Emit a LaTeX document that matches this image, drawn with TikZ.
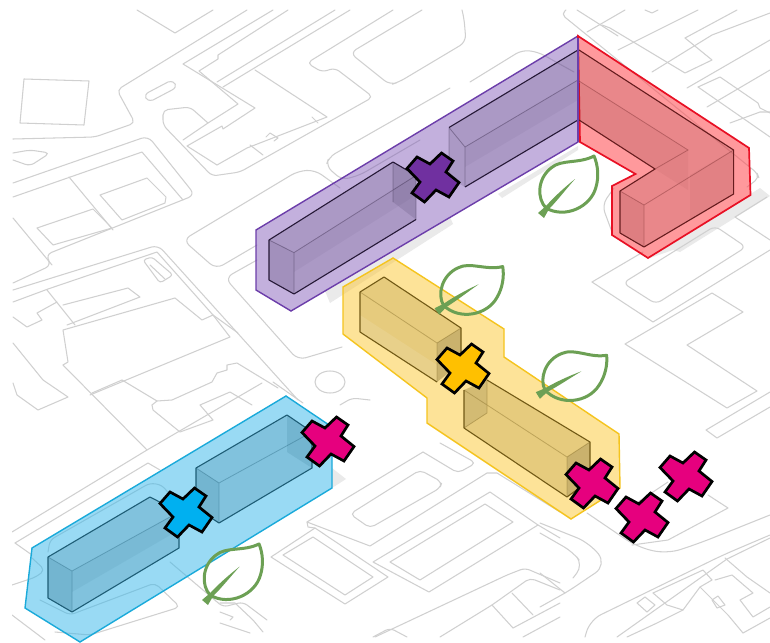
\documentclass[tikz,border=0pt]{standalone}
\definecolor{mapline}{RGB}{208,208,208}
\definecolor{shadowgrey}{RGB}{234,234,234}
\definecolor{leafgreen}{RGB}{108,160,84}
\definecolor{pline}{RGB}{108,62,170}
\definecolor{rline}{RGB}{232,16,36}
\definecolor{yline}{RGB}{245,196,30}
\definecolor{bline}{RGB}{26,170,218}
\definecolor{pfill}{RGB}{122,82,180}
\definecolor{rfill}{RGB}{255,70,76}
\definecolor{yfill}{RGB}{253,200,50}
\definecolor{bfill}{RGB}{60,185,235}
\definecolor{pcross}{RGB}{112,48,160}
\definecolor{ycross}{RGB}{255,192,0}
\definecolor{bcross}{RGB}{0,176,240}
\definecolor{mcross}{RGB}{230,0,126}
\tikzset{
 mp/.style={draw=mapline,line width=1.05pt,line join=round,line cap=round},
 rd/.style={mp,rounded corners=5pt},
 site/.style={line width=1.4pt,line join=miter},
 edge/.style={line width=.8pt,draw opacity=.35},
 shade/.style={fill opacity=.14},
}
\newcommand\crossat[3]{%
 \begin{scope}[shift={(#1,#2)}]
  \draw[fill=#3,draw=black,line width=2.7pt,line join=miter]
   (8.5,-24)--(20,-16)--(13,-5)--(26,5.5)--(16,20)--(3,13)--(-8.5,25)--(-21,16)--(-13,5)--(-26,-8.5)--(-16,-20)--(-3,-13)--cycle;
 \end{scope}}
\newcommand\leafat[3]{%
 \begin{scope}[shift={(#1,#2)},rotate=#3]
  \draw[leafgreen,line width=3pt,line join=round]
   (5,-7) .. controls (-4,-16) and (-4,-36) .. (10,-47) .. controls (20,-56) and (38,-51) .. (53,-59)
   .. controls (57,-50) and (58,-38) .. (55,-28) .. controls (50,-8) and (24,4) .. (5,-7) -- cycle;
  \fill[leafgreen] (-3,-2)--(3,3)--(8,-6) .. controls (16,-14) and (26,-27) .. (34,-36)
   .. controls (24,-28) and (14,-19) .. (5,-9) -- cycle;
 \end{scope}}
\begin{document}
\begin{tikzpicture}[x=1pt,y=-1pt]
\useasboundingbox (0,0) rectangle (770,642);
\fill[white] (0,0) rectangle (770,642);
% ground shadows
\fill[shadowgrey] (325,291)--(450,217)--(453,224)--(330,303)--cycle;
\fill[shadowgrey] (498,194)--(578,146)--(578,150)--(502,198)--cycle;
\fill[shadowgrey] (650,258)--(760,188)--(770,196)--(680,252)--(673,250)--cycle;
\fill[shadowgrey] (332,468)--(346,479)--(332,488)--cycle;
% base map
\begin{scope}
\clip (12,10) rectangle (770,642);
\draw[mp] (24,79)--(89,81)--(84,125)--(20,123)--cycle;
\draw[mp] (137,10)--(175,33)--(213,10);
\draw[rd] (13,139)--(95,137)--(135,123)--(117,90)--(247,10);
\draw[mp] (149,92)--(168,82) .. controls (176,80) and (178,87) .. (172,90)--(153,100) .. controls (145,102) and (143,95) .. (149,92)--cycle;
\draw[mp] (273,10)--(183,64)--(255,108)--(223,129)--(222,126)--(187,146)--(217,165);
\draw[mp] (288,10)--(218,55)--(218,59)--(199,71)--(238,104)--(208,123)--(183,140);
\draw[mp] (335,10)--(217,82);
\draw[mp] (350,10)--(223,87);
\draw[mp] (255,70)--(327,117)--(247,148)--(217,165);
\draw[mp] (312,117)--(318,123);
\draw[mp] (250,145)--(263,155);
\draw[mp] (266,137)--(270,133)--(278,138)--(274,141);
\draw[rd] (208,123)--(190,107)--(163,110)--(163,125)--(212,176)--(240,172)--(373,97)--(335,68)--(322,72)--(307,63)--(393,10);
\draw[rd,rounded corners=7pt] (422,10)--(350,53)--(390,85)--(399,82)--(466,42)--(464,18)--(462,10);
\draw[rd,rounded corners=7pt] (470,82)--(522,50)--(538,52)--(574,72);
\draw[rd,rounded corners=7pt] (450,88)--(329,157)--(326,166)--(342,180)--(360,175)--(420,140);
\draw[rd,rounded corners=8pt] (257,245)--(216,269)--(183,240)--(298,171)--(315,170)--(340,188);
\draw[rd,rounded corners=8pt] (257,260)--(225,278)--(298,360)--(342,347);
\draw[mp] (330,382) ellipse [x radius=15,y radius=11];
\draw[rd,rounded corners=7pt] (13,183)--(148,136)--(195,195)--(45,255)--(52,265)--(13,283);
\draw[mp] (13,197)--(142,152)--(183,200);
\draw[mp] (69,177)--(113,230);
\draw[mp] (100,195)--(147,178)--(166,197)--(165,203)--(122,220)--cycle;
\draw[mp] (37,228)--(93,209)--(112,228)--(53,245)--cycle;
\draw[mp] (13,218)--(52,265);
\draw[rd] (13,153)--(30,150)--(50,153)--(30,166)--(13,160);
\draw[rd,rounded corners=7pt] (13,290)--(158,245)--(298,400);
\draw[mp] (13,302)--(48,289)--(157,252)--(213,315)--(202,320)--(175,298)--(63,330)--(68,362)--(63,365);
\draw[mp] (63,305)--(128,288)--(140,297)--(67,325);
\draw[mp] (47,290)--(75,325);
\draw[mp] (13,317)--(27,327)--(42,320)--(37,313)--(57,302);
\draw[rd,rounded corners=3pt] (143,260)--(152,257)--(173,275)--(160,283)--cycle;
\draw[mp] (150,265)--(165,279);
\draw[mp] (213,315)--(230,337)--(90,395);
\draw[mp] (238,333)--(213,315);
\draw[mp] (63,365)--(147,450);
\draw[mp] (92,393)--(122,380);
\draw[mp] (13,343)--(43,380)--(68,397)--(38,410)--(17,395)--(13,383);
\draw[mp] (122,380)--(157,401)--(172,400)--(212,382)--(217,373)--(227,370)--(227,365)--(237,363)--(278,388);
\draw[mp] (152,405)--(157,401);
\draw[mp] (152,405)--(153,410)--(180,432)--(213,420)--(200,405)--(230,392)--(252,405);
\draw[mp] (12,532)--(147,450)--(262,383);
\draw[mp] (15,543)--(148,463)--(160,470);
\draw[mp] (15,543)--(32,555);
\draw[rd] (48,552)--(50,540)--(150,483)--(162,485)--(170,495);
\draw[rd] (12,585)--(36,577)--(45,570)--(32,558);
\draw[rd] (40,600)--(70,615)--(155,583)--(180,607)--(90,635)--(55,632);
\draw[rd] (170,562)--(223,607)--(243,602)--(267,620);
\draw[mp] (220,603)--(235,603)--(253,620)--(263,632);
\draw[mp] (220,612)--(233,617)--(230,620);
\draw[mp] (220,623)--(250,633);
\draw[mp] (12,615)--(45,640);
\draw[rd] (340,405)--(352,398)--(370,400);
\draw[mp] (273,382)--(303,403);
% lower centre
\draw[rd] (423,452)--(458,473)--(476,463)--(440,443);
\draw[mp] (423,452)--(307,522)--(308,527)--(315,528);
\draw[mp] (307,522)--(370,546)--(487,473)--(497,473)--(560,512);
\draw[rd] (350,514)--(420,470)--(442,482)--(440,488)--(370,528)--cycle;
\draw[mp] (373,562)--(490,492)--(538,525)--(429,592)--(373,562);
\draw[mp] (390,562)--(485,504)--(513,522)--(420,580)--cycle;
\draw[mp] (315,528)--(388,577)--(345,604)--(271,557)--cycle;
\draw[mp] (283,555)--(313,537)--(373,577)--(345,595)--cycle;
\draw[mp] (538,525)--(560,538);
\draw[rd] (373,637)--(390,628)--(407,637);
\draw[rd] (440,637)--(492,605)--(530,578)--(560,590);
\draw[rd] (375,637)--(507,575)--(525,568)--(560,583);
\draw[mp] (492,605)--(513,628);
\draw[mp] (512,593)--(533,615);
\draw[mp] (513,628)--(560,603);
\draw[mp] (523,637)--(560,617);
% lower right
\draw[rd,rounded corners=14pt] (540,523)--(590,543)--(607,565)--(573,588);
\draw[rd,rounded corners=10pt] (540,533)--(573,552)--(583,565)--(573,578);
\draw[mp] (573,588)--(565,593)--(540,607);
\draw[mp] (540,573)--(565,593);
\draw[rd,rounded corners=14pt] (587,513)--(637,547)--(667,554)--(700,543)--(770,515);
\draw[mp] (632,545)--(668,540)--(728,508)--(708,495);
\draw[mp] (668,482)--(638,502);
\draw[rd,rounded corners=12pt] (585,637)--(590,620)--(723,555)--(770,535);
\draw[mp] (617,637)--(727,559)--(770,538);
\draw[mp] (725,558)--(747,577)--(770,593);
\draw[mp] (653,593)--(703,570)--(712,580)--(700,587)--(683,610)--(657,623)--(627,637);
\draw[mp] (653,593)--(667,605)--(683,610);
\draw[mp] (715,580)--(732,575)--(753,593)--(740,600)--(753,617)--(770,607);
\draw[mp] (637,603)--(645,597)--(655,605)--(647,612)--cycle;
\draw[mp] (700,587)--(728,615)--(743,633);
\draw[mp] (743,633)--(770,618);
\draw[mp] (712,600)--(718,596)--(725,605)--(717,608)--cycle;
% right
\draw[mp] (592,282)--(653,322)--(770,250);
\draw[mp] (592,282)--(643,252);
\draw[rd,rounded corners=6pt] (623,283)--(715,226)--(746,247)--(656,304)--cycle;
\draw[rd] (735,217)--(767,197);
\draw[mp] (735,217)--(770,240);
\draw[mp] (625,344)--(712,293)--(743,312)--(687,345)--(757,391)--(727,408)--cycle;
\draw[mp] (770,392)--(706,430)--(717,438)--(770,407);
\draw[rd,rounded corners=8pt] (614,188)--(602,205)--(612,232);
% top right
\draw[rd] (566,10)--(561,14)--(757,173)--(759,178)--(747,187);
\draw[mp] (577,10)--(618,36);
\draw[mp] (587,32)--(625,10);
\draw[mp] (602,25)--(610,28)--(685,73)--(712,60)--(685,38);
\draw[mp] (618,50)--(698,10);
\draw[mp] (685,38)--(737,10);
\draw[mp] (652,72)--(712,35)--(770,13);
\draw[mp] (687,88)--(770,40);
\draw[mp] (698,87)--(720,77)--(758,103)--(760,108)--(770,113);
\draw[mp] (698,87)--(770,137);
\draw[mp] (707,107)--(770,70);
\draw[mp] (730,123)--(760,112)--(770,112);
\draw[mp] (645,10)--(652,13)--(658,10);
\end{scope}
% purple site
\fill[pfill,fill opacity=.45] (256,230)--(578,36)--(578,142)--(291,311)--(256,290)--cycle;
\draw[pline,site] (256,230)--(578,36)--(578,142)--(291,311)--(256,290)--cycle;
\fill[black!60!pfill,fill opacity=.16] (269,240)--(393,162)--(416,175.5)--(416,219.5)--(294,294)--(269,280)--cycle;
\fill[black!60!pfill,shade] (393,162)--(416,175.5)--(416,219.5)--(393,202)--cycle;
\fill[black!60!pfill,fill opacity=.07] (269,240)--(294,252.6)--(294,294)--(269,280)--cycle;
\fill[black!60!pfill,fill opacity=.05] (294,252.6)--(416,175.5)--(416,195)--(294,272)--cycle;
\draw[black!70!pfill,line width=1.1pt,line join=round] (294,294)--(269,280)--(269,240)--(393,162)--(416,175.5);
\draw[black!70!pfill,line width=1.1pt] (416,219.5)--(294,294);
\draw[black!70!pfill,edge] (269,240)--(294,252.6)--(294,294) (294,252.6)--(416,175.5)--(416,219.5) (393,162)--(393,202);
\fill[black!60!pfill,fill opacity=.16] (449,127.5)--(578,50)--(578,120)--(465,187)--(449,178)--cycle;
\fill[black!60!pfill,fill opacity=.05] (465,147)--(578,80)--(578,100)--(465,167)--cycle;
\draw[black!70!pfill,line width=1.1pt] (449,127.5)--(578,50) (465,187)--(578,120);
\draw[black!70!pfill,edge] (449,127.5)--(465,147)--(465,187) (465,147)--(578,80) (449,127.5)--(449,178);
% red site
\fill[rfill,fill opacity=.55] (578,36)--(749,148)--(750.5,195)--(648,258)--(612,235)--(612,186)--(635.5,174)--(580,142)--cycle;
\draw[rline,site,line width=1.7pt] (578,36)--(749,148)--(750.5,195)--(648,258)--(612,235)--(612,186)--(635.5,174)--(580,142)--cycle;
\fill[black!60!rfill,fill opacity=.14] (579,50)--(733.6,150)--(733.6,194)--(644,247)--(620,233)--(620,191)--(655,169)--(579,120)--cycle;
\fill[black!60!rfill,fill opacity=.05] (579,81)--(688,150)--(688,190)--(655,169)--(579,120)--cycle;
\fill[black!60!rfill,fill opacity=.08] (620,191)--(644,205)--(644,247)--(620,233)--cycle;
\fill[black!60!rfill,fill opacity=.05] (690,175)--(733.6,150)--(733.6,194)--(690,220)--cycle;
\draw[black!60!rfill,line width=1.1pt,line join=round] (579,50)--(733.6,150)--(733.6,194)--(644,247)--(620,233)--(620,191)--(655,169)--(579,120);
\draw[black!60!rfill,edge] (579,81)--(688,150)--(655,169) (620,191)--(644,205)--(644,247) (644,205)--(733.6,150);
\draw[pline,line width=1.3pt] (578,38)--(578,142);
% yellow site
\fill[yfill,fill opacity=.5] (393,258)--(504,329)--(504,357)--(619,434)--(620,488)--(571,519)--(427,423)--(427,398)--(343,334)--(343,287)--cycle;
\draw[yline,site] (393,258)--(504,329)--(504,357)--(619,434)--(620,488)--(571,519)--(427,423)--(427,398)--(343,334)--(343,287)--cycle;
\fill[black!40!yfill,fill opacity=.22] (360,292)--(384,277)--(461,328)--(461,363)--(437,382)--(360,332)--cycle;
\fill[black,fill opacity=.12] (437,343)--(461,328)--(461,363)--(437,382)--cycle;
\fill[white,fill opacity=.1] (360,315)--(437,365)--(437,382)--(360,332)--cycle;
\draw[black!55!yfill,line width=1.1pt,line join=round] (437,382)--(360,332)--(360,292)--(384,277)--(461,328)--(461,363);
\draw[black!55!yfill,edge] (360,292)--(437,343)--(437,382) (437,343)--(461,328);
\fill[black!40!yfill,fill opacity=.22] (464,390)--(487,380)--(590,442)--(590,480)--(567,497)--(464,428)--cycle;
\fill[black,fill opacity=.12] (567,457)--(590,442)--(590,480)--(567,497)--cycle;
\fill[black,fill opacity=.08] (464,390)--(487,380)--(487,413)--(464,428)--cycle;
\draw[black!55!yfill,line width=1.1pt,line join=round] (590,480)--(590,442)--(487,380) (464,390)--(464,428)--(567,497)--(590,480);
\draw[black!55!yfill,edge] (464,390)--(567,457)--(590,442) (567,457)--(567,497) (487,380)--(487,413)--(464,428);
% blue site
\begin{scope}
\clip (0,0) rectangle (770,642);
\fill[bfill,fill opacity=.52] (286,396)--(332,427)--(332,488)--(80,642)--(25,608)--(32,548)--cycle;
\draw[bline,site] (286,396)--(332,427)--(332,488)--(80,642)--(25,608)--(32,548)--cycle;
\end{scope}
\fill[black!45!bfill,fill opacity=.2] (48,557)--(150,497)--(179,512)--(179,548)--(72,612)--(48,598)--cycle;
\fill[black!45!bfill,shade] (48,557)--(72,571)--(72,612)--(48,598)--cycle;
\fill[black!45!bfill,fill opacity=.08] (72,571)--(179,512)--(179,530)--(72,592)--cycle;
\draw[black!50!bfill,line width=1.1pt,line join=round] (72,612)--(48,598)--(48,557)--(150,497)--(179,512)--(179,548)--(72,612);
\draw[black!50!bfill,edge] (48,557)--(72,571)--(72,612) (72,571)--(179,512);
\fill[black!45!bfill,fill opacity=.2] (196,468)--(287,415)--(312,432)--(312,468)--(219,523)--(196,508)--cycle;
\fill[black!45!bfill,shade] (196,468)--(219,483)--(219,523)--(196,508)--cycle;
\fill[black!45!bfill,shade] (287,415)--(312,432)--(312,468)--(287,452)--cycle;
\draw[black!50!bfill,line width=1.1pt,line join=round] (219,523)--(312,468)--(312,432)--(287,415)--(196,468)--(196,508)--(219,523);
\draw[black!50!bfill,edge] (196,468)--(219,483)--(219,523) (219,483)--(312,432);
% leaves
\leafat{541}{215}{0}
\leafat{437}{311}{-14}
\leafat{538}{395}{-18}
\leafat{205}{602}{-1}
% crosses
\crossat{433}{177}{pcross}
\crossat{463}{368}{ycross}
\crossat{186}{512}{bcross}
\crossat{328}{441}{mcross}
\crossat{592}{483}{mcross}
\crossat{642}{517}{mcross}
\crossat{686}{476}{mcross}
\end{tikzpicture}
\end{document}
